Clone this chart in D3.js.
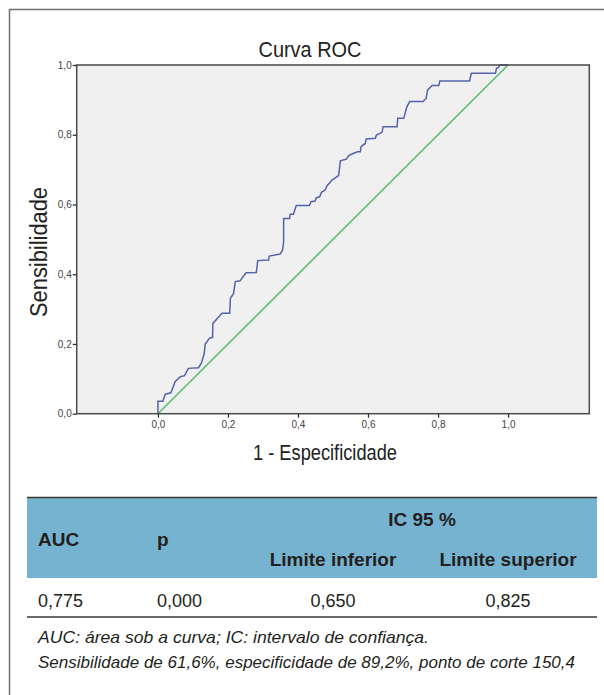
<html>

<head>
  <script src="https://d3js.org/d3.v7.min.js"></script>
  <style>
    body { margin: 0; background: white; }
    text { font-family: "Liberation Sans", Arial, sans-serif; }
  </style>
</head>

<body>
  <svg id="fig" width="604" height="695"></svg>

  <script>
    // ROC curve points (1 - especificidade, sensibilidade)
    const rocX = [0, 0, 0.014, 0.021, 0.037, 0.049, 0.064, 0.076, 0.087, 0.116, 0.124, 0.132, 0.135, 0.147, 0.156,
      0.157, 0.170, 0.183, 0.205, 0.207, 0.216, 0.221, 0.235, 0.243, 0.252, 0.281, 0.285, 0.316, 0.318, 0.349,
      0.356, 0.359, 0.359, 0.376, 0.378, 0.387, 0.395, 0.433, 0.437, 0.449, 0.452, 0.462, 0.467, 0.478, 0.483,
      0.492, 0.497, 0.516, 0.521, 0.538, 0.545, 0.559, 0.570, 0.578, 0.580, 0.592, 0.595, 0.621, 0.624, 0.640,
      0.643, 0.683, 0.685, 0.702, 0.707, 0.711, 0.719, 0.757, 0.766, 0.770, 0.783, 0.802, 0.805, 0.890, 0.895,
      0.964, 0.967, 0.972, 0.976, 1.0];
    const rocY = [0, 0.036, 0.036, 0.056, 0.060, 0.092, 0.106, 0.109, 0.130, 0.132, 0.145, 0.171, 0.200, 0.216, 0.219,
      0.259, 0.274, 0.288, 0.288, 0.331, 0.345, 0.379, 0.381, 0.393, 0.404, 0.405, 0.439, 0.441, 0.452, 0.458,
      0.469, 0.493, 0.560, 0.560, 0.572, 0.572, 0.597, 0.597, 0.608, 0.610, 0.619, 0.622, 0.635, 0.642, 0.654,
      0.664, 0.670, 0.683, 0.725, 0.730, 0.740, 0.747, 0.751, 0.751, 0.766, 0.775, 0.788, 0.790, 0.799, 0.807,
      0.823, 0.823, 0.847, 0.847, 0.866, 0.880, 0.895, 0.895, 0.904, 0.928, 0.941, 0.941, 0.954, 0.954, 0.976,
      0.976, 0.991, 0.992, 1.0, 1.0];
    const refLine = [0, 1];
    const tickVals = [0, 0.2, 0.4, 0.6, 0.8, 1.0];

    // table contents
    const headCols = ["AUC", "p"];
    const icHead = "IC 95 %";
    const icCols = ["Limite inferior", "Limite superior"];
    const rowVals = ["0,775", "0,000", "0,650", "0,825"];
    const notes = ["AUC: área sob a curva; IC: intervalo de confiança.",
      "Sensibilidade de 61,6%, especificidade de 89,2%, ponto de corte 150,4"];

    let svg = d3.select("svg#fig");

    // outer frame (top + left only)
    svg.append("path")
      .attr("d", "M9.5,695 L9.5,9.5 L604,9.5")
      .attr("fill", "none")
      .attr("stroke", "#707070")
      .attr("stroke-width", 1.5);

    const plot = { left: 76.7, right: 589.3, top: 65, bottom: 413.7 };
    const x = d3.scaleLinear().domain([-0.232, 1.232]).range([plot.left, plot.right]);
    const y = d3.scaleLinear().domain([0, 1]).range([plot.bottom, plot.top]);
    const fmt = d => d3.format(".1f")(d).replace(".", ",");

    svg.append("rect")
      .attr("x", plot.left)
      .attr("y", plot.top)
      .attr("width", plot.right - plot.left)
      .attr("height", plot.bottom - plot.top)
      .attr("fill", "#f0f0f0");

    // diagonal reference
    svg.append("line")
      .attr("x1", x(refLine[0]))
      .attr("y1", y(refLine[0]))
      .attr("x2", x(refLine[1]))
      .attr("y2", y(refLine[1]))
      .style("stroke", "#5cbf6e")
      .style("stroke-width", 1.6);

    // ROC curve
    const line = d3.line().x(i => x(rocX[i])).y(i => y(rocY[i]));
    svg.append("path")
      .attr("d", line(d3.range(rocX.length)))
      .attr("fill", "none")
      .style("stroke", "#5563ac")
      .style("stroke-width", 1.5);

    svg.append("rect")
      .attr("x", plot.left)
      .attr("y", plot.top)
      .attr("width", plot.right - plot.left)
      .attr("height", plot.bottom - plot.top)
      .attr("fill", "none")
      .attr("stroke", "#4a4a4a")
      .attr("stroke-width", 1.5);

    let leftAxis = d3.axisLeft(y).tickValues(tickVals).tickFormat(fmt).tickSize(4).tickPadding(1);
    let bottomAxis = d3.axisBottom(x).tickValues(tickVals).tickFormat(fmt).tickSize(4).tickPadding(3);

    [svg.append("g").attr("transform", `translate(${plot.left},0)`).call(leftAxis),
     svg.append("g").attr("transform", `translate(0,${plot.bottom})`).call(bottomAxis)].forEach(g => {
      g.select(".domain").remove();
      g.selectAll("line").attr("stroke", "#333").attr("stroke-width", 1.3);
      g.selectAll("text")
        .attr("fill", "#444")
        .style("font-size", "10px")
        .style("font-family", "'Liberation Sans', Arial, sans-serif");
    });

    // titles
    svg.append("text")
      .attr("x", 310)
      .attr("y", 57)
      .attr("text-anchor", "middle")
      .attr("textLength", 103)
      .attr("lengthAdjust", "spacingAndGlyphs")
      .style("font-size", "22px")
      .attr("fill", "#222")
      .text("Curva ROC");

    svg.append("text")
      .attr("x", 325)
      .attr("y", 460)
      .attr("text-anchor", "middle")
      .attr("textLength", 144)
      .attr("lengthAdjust", "spacingAndGlyphs")
      .style("font-size", "22px")
      .attr("fill", "#222")
      .text("1 - Especificidade");

    svg.append("text")
      .attr("transform", "translate(47,252) rotate(-90)")
      .attr("text-anchor", "middle")
      .attr("textLength", 130)
      .attr("lengthAdjust", "spacingAndGlyphs")
      .style("font-size", "23px")
      .attr("fill", "#222")
      .text("Sensibilidade");

    // table
    const tbl = { left: 27, right: 597, top: 497.5, headBottom: 578, bottom: 617 };
    svg.append("rect")
      .attr("x", tbl.left)
      .attr("y", tbl.top)
      .attr("width", tbl.right - tbl.left)
      .attr("height", tbl.headBottom - tbl.top)
      .attr("fill", "#76b3d0");

    [tbl.top, tbl.bottom].forEach(yy => {
      svg.append("line")
        .attr("x1", tbl.left)
        .attr("x2", tbl.right)
        .attr("y1", yy)
        .attr("y2", yy)
        .style("stroke", "#3a3a3a")
        .style("stroke-width", 1.5);
    });

    const colX = [38, 157, 333, 508];
    const ink = "#231f20";

    headCols.forEach((h, i) => {
      svg.append("text")
        .attr("x", colX[i])
        .attr("y", 546)
        .style("font-size", "19px")
        .style("font-weight", "bold")
        .attr("fill", ink)
        .text(h);
    });

    svg.append("text")
      .attr("x", 422)
      .attr("y", 526)
      .attr("text-anchor", "middle")
      .style("font-size", "19px")
      .style("font-weight", "bold")
      .attr("fill", ink)
      .text(icHead);

    icCols.forEach((h, i) => {
      svg.append("text")
        .attr("x", colX[i + 2])
        .attr("y", 566)
        .attr("text-anchor", "middle")
        .style("font-size", "19px")
        .style("font-weight", "bold")
        .attr("fill", ink)
        .text(h);
    });

    rowVals.forEach((v, i) => {
      svg.append("text")
        .attr("x", colX[i])
        .attr("y", 606.5)
        .attr("text-anchor", i < 2 ? "start" : "middle")
        .style("font-size", "18px")
        .attr("fill", ink)
        .text(v);
    });

    // footnotes
    const noteLen = [391, 537];
    notes.forEach((n, i) => {
      svg.append("text")
        .attr("x", 38)
        .attr("y", 643 + i * 25)
        .attr("textLength", noteLen[i])
        .attr("lengthAdjust", "spacingAndGlyphs")
        .style("font-size", "17px")
        .style("font-style", "italic")
        .attr("fill", ink)
        .text(n);
    });
  </script>

</body>

</html>
